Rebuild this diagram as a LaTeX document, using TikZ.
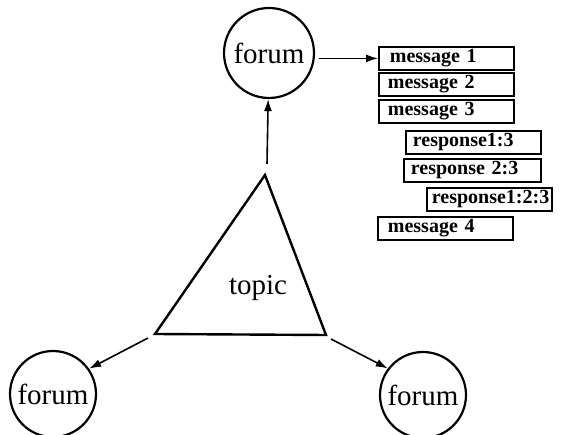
\documentclass[tikz,border=0pt]{standalone}
\usepackage{fontspec}
\setmainfont{Liberation Serif}
\usepackage{tikz}
\usetikzlibrary{positioning,arrows.meta}

\tikzset{
  forum/.style={draw, circle, line width=2.2pt, minimum size=86pt, inner sep=0pt, font=\fontsize{29}{32}\selectfont},
  msg/.style={draw, line width=1.8pt, anchor=north west, minimum height=23pt, text width=117pt, text height=14pt, text depth=5pt, inner xsep=9pt, inner ysep=2pt, align=left, font=\bfseries\fontsize{20}{22}\selectfont},
  arr/.style={-{Latex[length=12pt,width=8pt]}, line width=1.6pt}
}

\begin{document}
\begin{tikzpicture}[x=1pt, y=-1pt]
\useasboundingbox (0,0) rectangle (563,435);

% the three forums
\node[forum, minimum size=90pt] (ftop) at (269,53) {forum};
\node[forum] (fleft) at (53,394) {forum};
\node[forum] (fright) at (423,395) {forum};

% topic triangle
\coordinate (apex) at (265,175);
\coordinate (bleft) at (155,334);
\coordinate (bright) at (326,335);
\draw[line width=2.4pt, line join=miter] (apex) -- (bleft) -- (bright) -- cycle;
\node (topic) at (258,288) {\fontsize{29}{32}\selectfont topic};

% message list
\node[msg, inner xsep=11pt, text width=113pt] (m1) at (378,46) {message 1};
\node[msg] (m2) at (378,72) {message 2};
\node[msg] (m3) at (378,99) {message 3};
\node[msg, inner xsep=7pt, text width=121pt] (r13) at (405,130) {response1:3};
\node[msg, inner xsep=7pt, text width=123pt] (r23) at (403,158) {response 2:3};
\node[msg, text width=115pt, inner xsep=5pt] (r123) at (426,187) {response1:2:3};
\node[msg, inner xsep=10pt, text width=115pt] (m4) at (377,216) {message 4};

% arrows
\coordinate (upstart) at (267,164);
\coordinate (lstart) at (148,338);
\coordinate (rstart) at (331,339);
\draw[arr] (upstart) -- (ftop);
\draw[arr, shorten <=4pt] (ftop.east |- m1.west) -- (m1.west);
\draw[arr] (lstart) -- (fleft.35);
\draw[arr] (rstart) -- (fright.143);

\end{tikzpicture}
\end{document}
